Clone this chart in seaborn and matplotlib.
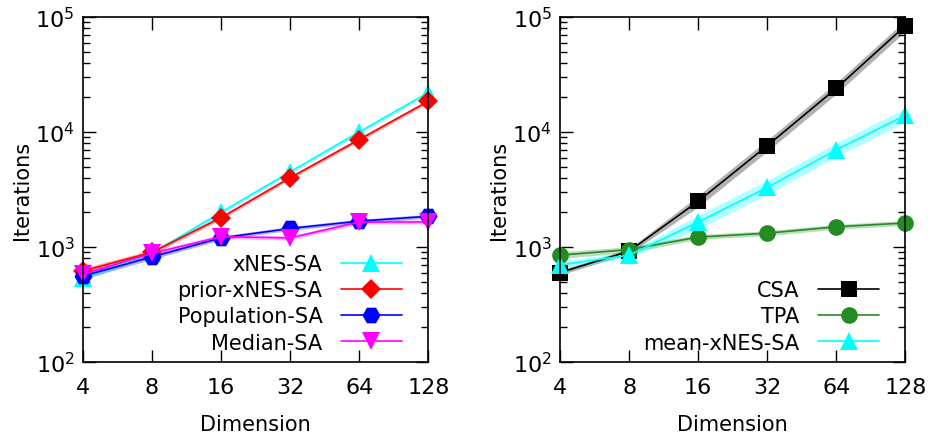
import numpy as np
import pandas as pd
import seaborn as sns
import matplotlib.pyplot as plt
from matplotlib.ticker import FixedLocator, FixedFormatter, LogLocator, NullFormatter

dims = [4, 8, 16, 32, 64, 128]

# left panel
xnes_sa = [540, 880, 2000, 4500, 10000, 22000]
prior_xnes_sa = [620, 900, 1800, 4000, 8600, 18500]
population_sa = [560, 820, 1200, 1450, 1680, 1850]
median_sa = [580, 880, 1230, 1200, 1650, 1650]

# right panel
csa = [600, 920, 2500, 7600, 24000, 84000]
tpa = [850, 950, 1220, 1320, 1500, 1620]
mean_xnes_sa = [700, 850, 1650, 3300, 7000, 14000]

# band half-width (multiplicative) around each series
band_left = [1.06, 1.05, 1.04, 1.04, 1.04, 1.04]
band_csa = [1.05, 1.05, 1.12, 1.12, 1.12, 1.12]
band_tpa = [1.07, 1.06, 1.05, 1.05, 1.05, 1.05]
band_mean = [1.08, 1.06, 1.15, 1.15, 1.15, 1.15]

sns.set_style("ticks")
plt.rcParams['font.family'] = ['DejaVu Sans']
plt.rcParams.update({"text.color": "black", "axes.labelcolor": "black",
                     "xtick.color": "black", "ytick.color": "black",
                     "axes.edgecolor": "black"})

fig = plt.figure(figsize=(9.31, 4.39), dpi=100)
ax1 = fig.add_axes([0.089, 0.173, 0.371, 0.786])
ax2 = fig.add_axes([0.6015, 0.173, 0.371, 0.786])

left_series = [
    ("xNES-SA", xnes_sa, "#00ffff", "^", band_left),
    ("prior-xNES-SA", prior_xnes_sa, "#ff0000", "D", band_left),
    ("Population-SA", population_sa, "#0000ff", "H", band_left),
    ("Median-SA", median_sa, "#ff00ff", "v", band_left),
]
right_series = [
    ("CSA", csa, "#000000", "s", band_csa),
    ("TPA", tpa, "#228b22", "o", band_tpa),
    ("mean-xNES-SA", mean_xnes_sa, "#00ffff", "^", band_mean),
]

msize = {"^": 13, "D": 10, "H": 13, "v": 13, "s": 12, "o": 12}

for ax, series in [(ax1, left_series), (ax2, right_series)]:
    for name, vals, col, mk, band in series:
        v = np.array(vals, dtype=float)
        b = np.array(band)
        ax.fill_between(dims, v / b, v * b, color=col, alpha=0.3, lw=0)
        df = pd.DataFrame({"dim": dims, "it": vals})
        sns.lineplot(data=df, x="dim", y="it", ax=ax, color=col, marker=mk,
                     markersize=msize[mk], markeredgewidth=0, lw=1.2, label=name,
                     clip_on=False)
    ax.set_xscale("log", base=2)
    ax.set_yscale("log")
    ax.set_xlim(4, 128)
    ax.set_ylim(100, 100000)
    ax.xaxis.set_major_locator(FixedLocator(dims))
    ax.xaxis.set_major_formatter(FixedFormatter([str(d) for d in dims]))
    ax.xaxis.set_minor_locator(FixedLocator([]))
    ax.yaxis.set_major_locator(LogLocator(base=10, numticks=10))
    ax.yaxis.set_minor_locator(LogLocator(base=10, subs=np.arange(2, 10), numticks=20))
    ax.yaxis.set_minor_formatter(NullFormatter())
    ax.tick_params(which="both", direction="in", top=True, right=True, labelsize=16, width=1)
    ax.tick_params(which="major", length=9)
    ax.tick_params(axis="x", which="major", pad=11)
    ax.tick_params(axis="y", which="major", pad=6)
    ax.tick_params(which="minor", length=5)
    for s in ax.spines.values():
        s.set_linewidth(1.2)
    ax.set_xlabel("Dimension", fontsize=15, labelpad=12)
    ax.set_ylabel("Iterations", fontsize=15, labelpad=2)
    leg = ax.legend(loc="lower right", markerfirst=False, frameon=False, fontsize=15,
                    handlelength=2.9, handletextpad=0.9, labelspacing=0.3,
                    borderaxespad=0.05, bbox_to_anchor=(0.95, 0.0))

fig.savefig("out.png", dpi=100)
